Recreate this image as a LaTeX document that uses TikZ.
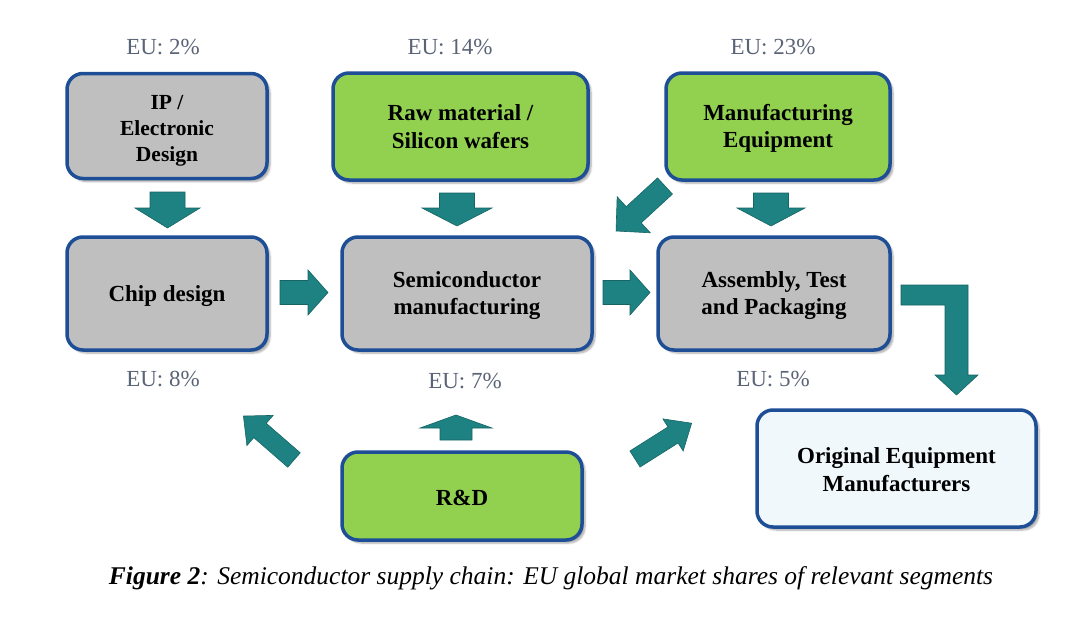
\documentclass[tikz,border=0pt]{standalone}
\usepackage{fontspec}
\setmainfont{Liberation Serif}
\usetikzlibrary{shadows.blur}
\definecolor{boxblue}{RGB}{30,78,150}
\definecolor{boxgray}{RGB}{191,191,191}
\definecolor{boxgreen}{RGB}{146,208,80}
\definecolor{oemfill}{RGB}{240,248,251}
\definecolor{teal1}{RGB}{31,130,130}
\definecolor{teal2}{RGB}{22,100,100}
\definecolor{eugray}{RGB}{90,100,118}
\tikzset{
  segbox/.style={draw=boxblue, line width=3.5pt, rounded corners=16pt, inner sep=0pt,
    blur shadow={shadow xshift=3pt, shadow yshift=-3pt, shadow blur steps=6, shadow opacity=35}},
  graybox/.style={segbox, fill=boxgray},
  greenbox/.style={segbox, fill=boxgreen},
  boxtext/.style={align=center, inner sep=0pt, font=\fontsize{23}{27.5}\selectfont\bfseries},
  eulabel/.style={font=\fontsize{23}{26}\selectfont, text=eugray, inner sep=0pt},
  blockarrow/.style={fill=teal1, draw=teal2, line width=0.6pt, line join=miter}
}
% #1 tail point, #2 angle, #3 length, #4 shaft width, #5 head width, #6 head length
\newcommand\blkarrow[6]{%
  \begin{scope}[shift={#1}, rotate=#2]
    \path[blockarrow] (0,{-(#4)/2}) -- ({#3-#6},{-(#4)/2}) -- ({#3-#6},{-(#5)/2}) -- (#3,0)
      -- ({#3-#6},{(#5)/2}) -- ({#3-#6},{(#4)/2}) -- (0,{(#4)/2}) -- cycle;
  \end{scope}}
\begin{document}
\begin{tikzpicture}[x=1pt,y=-1pt]
\useasboundingbox (0,0) rectangle (1080,624);
% boxes
\node[graybox, minimum width=200pt, minimum height=105pt] (ip) at (167,126) {};
\node[greenbox, minimum width=255pt, minimum height=107pt] (raw) at (460.5,126.5) {};
\node[greenbox, minimum width=224pt, minimum height=107pt] (equip) at (778,126.5) {};
\node[graybox, minimum width=200pt, minimum height=113pt] (chip) at (167,293.5) {};
\node[graybox, minimum width=250pt, minimum height=113pt] (semi) at (467,293.5) {};
\node[graybox, minimum width=232pt, minimum height=113pt] (atp) at (774,293.5) {};
\node[greenbox, minimum width=240pt, minimum height=88pt] (rd) at (462,496) {};
\node[segbox, fill=oemfill, minimum width=279pt, minimum height=117pt] (oem) at (896.5,468.5) {};
% box texts
\node[boxtext, font=\fontsize{21.5}{26}\selectfont\bfseries] (ipt) at ([yshift=-5pt]ip.center) {IP /\\Electronic\\Design};
\node[boxtext] (rawt) at ([yshift=0pt]raw.center) {Raw material /\\Silicon wafers};
\node[boxtext] (equipt) at ([yshift=-2pt]equip.center) {Manufacturing\\Equipment};
\node[boxtext] (chipt) at ([yshift=-3pt]chip.center) {Chip design};
\node[boxtext] (semit) at ([yshift=-2pt]semi.center) {Semiconductor\\manufacturing};
\node[boxtext] (atpt) at ([yshift=-2pt]atp.center) {Assembly, Test\\and Packaging};
\node[boxtext] (rdt) at ([yshift=-2pt]rd.center) {R\&D};
\node[boxtext] (oemt) at ([yshift=-1pt]oem.center) {Original Equipment\\Manufacturers};
% labels
\node[eulabel] (l1) at (163,47) {EU: 2\%};
\node[eulabel] (l2) at (450,47) {EU: 14\%};
\node[eulabel] (l3) at (773,47) {EU: 23\%};
\node[eulabel] (l4) at (163,379) {EU: 8\%};
\node[eulabel] (l5) at (465,381) {EU: 7\%};
\node[eulabel] (l6) at (773,379) {EU: 5\%};
% arrows
\blkarrow{(167.5,192)}{-90}{36}{35}{65}{20}
\blkarrow{(457,193)}{-90}{33}{35}{70}{18}
\blkarrow{(771,193)}{-90}{33}{35}{68}{18}
\blkarrow{(280,292.5)}{0}{48}{24}{45}{20}
\blkarrow{(603,292.5)}{0}{47}{24}{45}{20}
\blkarrow{(665,186)}{222.6}{66.5}{22}{49}{24}
\blkarrow{(456,440)}{90}{25}{32}{72}{13}
\blkarrow{(294,460)}{139}{67}{19}{40}{22}
\blkarrow{(635,459)}{32.3}{67}{19}{38}{22}
\path[blockarrow] (901,285) -- (968,285) -- (968,375) -- (978,375) -- (956.5,395)
  -- (935,375) -- (945,375) -- (945,305) -- (901,305) -- cycle;
% caption
\node[font=\fontsize{25.5}{30}\selectfont\itshape, inner sep=0pt] (cap) at (551,578)
  {\textbf{Figure 2}: Semiconductor supply chain: EU global market shares of relevant segments};
\end{tikzpicture}
\end{document}
